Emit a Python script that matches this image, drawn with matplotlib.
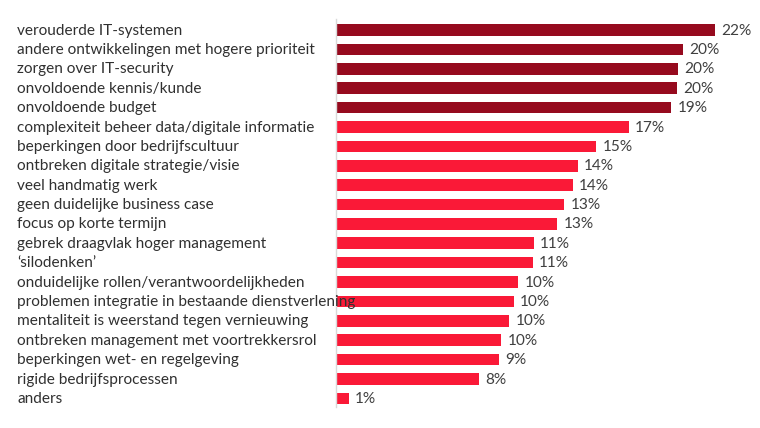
import matplotlib
matplotlib.use("Agg")
import matplotlib.pyplot as plt
from matplotlib.transforms import blended_transform_factory

categories = [
    "verouderde IT-systemen",
    "andere ontwikkelingen met hogere prioriteit",
    "zorgen over IT-security",
    "onvoldoende kennis/kunde",
    "onvoldoende budget",
    "complexiteit beheer data/digitale informatie",
    "beperkingen door bedrijfscultuur",
    "ontbreken digitale strategie/visie",
    "veel handmatig werk",
    "geen duidelijke business case",
    "focus op korte termijn",
    "gebrek draagvlak hoger management",
    "\u2018silodenken\u2019",
    "onduidelijke rollen/verantwoordelijkheden",
    "problemen integratie in bestaande dienstverlening",
    "mentaliteit is weerstand tegen vernieuwing",
    "ontbreken management met voortrekkersrol",
    "beperkingen wet- en regelgeving",
    "rigide bedrijfsprocessen",
    "anders",
]
values = [21.9, 20.1, 19.8, 19.7, 19.4, 16.95, 15.06, 14.0, 13.7, 13.2,
          12.8, 11.45, 11.4, 10.54, 10.29, 10.02, 9.57, 9.44, 8.3, 0.77]
value_labels = ["22%", "20%", "20%", "20%", "19%", "17%", "15%", "14%", "14%", "13%",
                "13%", "11%", "11%", "10%", "10%", "10%", "10%", "9%", "8%", "1%"]
highlight = [True] * 5 + [False] * 15

DARK = "#960A1E"
BRIGHT = "#FA1937"
TEXT = "#303030"

plt.rcParams['font.family'] = ['Lato', 'DejaVu Sans']

W, H = 760, 428
fig = plt.figure(figsize=(W / 100, H / 100), dpi=100)
x0 = 335.7
ax = fig.add_axes([x0 / W, 1 - 406.7 / H, 24 * 17.3 / W, (406.7 - 19) / H])

ypos = list(range(len(categories)))
colors = [DARK if h else BRIGHT for h in highlight]
ax.barh(ypos, values, height=0.6, color=colors, zorder=2)
ax.set_xlim(0, 24)
ax.set_ylim(19.43, -0.57)

for s in ["top", "right", "bottom"]:
    ax.spines[s].set_visible(False)
ax.spines["left"].set_color("#D9D9D9")
ax.spines["left"].set_linewidth(1.0)
ax.set_xticks([])
ax.set_yticks([])

tr = blended_transform_factory(fig.transFigure, ax.transData)
for y, c in zip(ypos, categories):
    ax.text(17 / W, y + 0.03, c, transform=tr, ha="left", va="center",
            fontsize=11.1, color=TEXT, zorder=5, clip_on=False)

for y, v, lab in zip(ypos, values, value_labels):
    ax.annotate(lab, (v, y + 0.03), xytext=(4.5, 0), textcoords="offset points",
                ha="left", va="center", fontsize=11.1, color="#404040")

fig.savefig("out.png", dpi=100)
